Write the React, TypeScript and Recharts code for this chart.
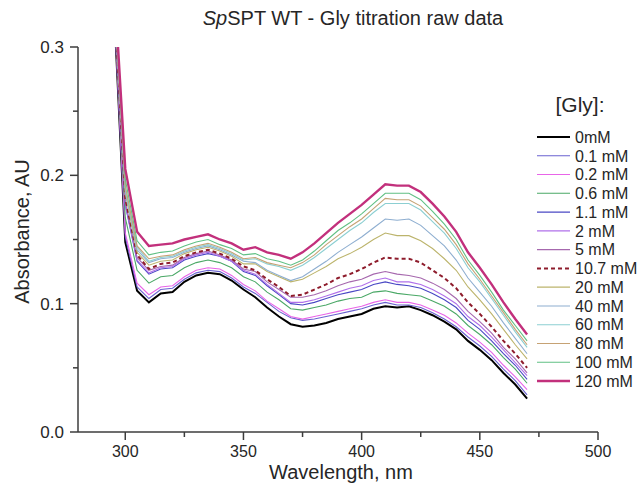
import React from 'react';
import { LineChart, Line, XAxis, YAxis } from 'recharts';

// wavelength grid, nm
const wavelengths = [
  295, 300, 305, 310, 315, 320, 325, 330, 335, 340, 345, 350,
  355, 360, 365, 370, 375, 380, 385, 390, 395, 400, 405, 410,
  415, 420, 425, 430, 435, 440, 445, 450, 455, 460, 465, 470,
];

// absorbance per [Gly]
const gly0 = [0.340, 0.148, 0.110, 0.101, 0.108, 0.109, 0.117, 0.122, 0.124, 0.123, 0.118, 0.111, 0.105, 0.097, 0.090, 0.084, 0.082, 0.083, 0.085, 0.088, 0.090, 0.092, 0.096, 0.098, 0.097, 0.098, 0.095, 0.091, 0.086, 0.080, 0.071, 0.064, 0.056, 0.046, 0.037, 0.026];
const gly01 = [0.341, 0.152, 0.113, 0.104, 0.111, 0.112, 0.119, 0.124, 0.126, 0.125, 0.120, 0.113, 0.108, 0.101, 0.094, 0.089, 0.087, 0.088, 0.090, 0.092, 0.094, 0.096, 0.099, 0.101, 0.099, 0.099, 0.097, 0.093, 0.088, 0.082, 0.074, 0.067, 0.059, 0.049, 0.040, 0.029];
const gly02 = [0.342, 0.155, 0.116, 0.107, 0.113, 0.114, 0.121, 0.126, 0.128, 0.127, 0.122, 0.115, 0.110, 0.102, 0.096, 0.090, 0.088, 0.090, 0.092, 0.094, 0.096, 0.098, 0.101, 0.103, 0.101, 0.101, 0.099, 0.095, 0.091, 0.085, 0.077, 0.070, 0.062, 0.052, 0.043, 0.033];
const gly06 = [0.344, 0.167, 0.126, 0.116, 0.121, 0.122, 0.128, 0.132, 0.134, 0.132, 0.128, 0.121, 0.117, 0.109, 0.103, 0.096, 0.095, 0.097, 0.099, 0.102, 0.104, 0.105, 0.109, 0.110, 0.108, 0.107, 0.106, 0.102, 0.098, 0.092, 0.083, 0.076, 0.068, 0.058, 0.049, 0.038];
const gly11 = [0.346, 0.177, 0.133, 0.123, 0.127, 0.128, 0.134, 0.137, 0.139, 0.137, 0.133, 0.125, 0.122, 0.114, 0.107, 0.100, 0.099, 0.101, 0.104, 0.107, 0.109, 0.111, 0.115, 0.117, 0.115, 0.114, 0.112, 0.108, 0.103, 0.097, 0.087, 0.080, 0.071, 0.061, 0.052, 0.041];
const gly2 = [0.346, 0.178, 0.134, 0.124, 0.128, 0.129, 0.135, 0.138, 0.140, 0.137, 0.133, 0.126, 0.123, 0.115, 0.108, 0.101, 0.101, 0.103, 0.106, 0.109, 0.112, 0.114, 0.118, 0.120, 0.117, 0.117, 0.115, 0.111, 0.106, 0.100, 0.090, 0.083, 0.074, 0.064, 0.054, 0.044];
const gly5 = [0.347, 0.180, 0.136, 0.126, 0.129, 0.130, 0.136, 0.139, 0.141, 0.138, 0.134, 0.127, 0.125, 0.117, 0.111, 0.105, 0.105, 0.107, 0.110, 0.114, 0.117, 0.119, 0.123, 0.125, 0.123, 0.122, 0.120, 0.116, 0.111, 0.104, 0.094, 0.086, 0.077, 0.066, 0.057, 0.046];
const gly107 = [0.348, 0.182, 0.138, 0.127, 0.131, 0.132, 0.137, 0.140, 0.142, 0.139, 0.135, 0.129, 0.126, 0.119, 0.113, 0.106, 0.107, 0.111, 0.115, 0.120, 0.123, 0.127, 0.132, 0.136, 0.135, 0.135, 0.132, 0.126, 0.120, 0.112, 0.101, 0.092, 0.082, 0.071, 0.061, 0.050];
const gly20 = [0.350, 0.186, 0.140, 0.130, 0.133, 0.134, 0.139, 0.142, 0.144, 0.141, 0.137, 0.131, 0.131, 0.125, 0.121, 0.117, 0.119, 0.124, 0.129, 0.135, 0.139, 0.144, 0.150, 0.155, 0.153, 0.153, 0.149, 0.143, 0.135, 0.126, 0.113, 0.103, 0.092, 0.080, 0.068, 0.057];
const gly40 = [0.351, 0.188, 0.142, 0.132, 0.135, 0.136, 0.140, 0.143, 0.145, 0.142, 0.138, 0.133, 0.132, 0.126, 0.122, 0.118, 0.121, 0.127, 0.133, 0.140, 0.146, 0.152, 0.159, 0.166, 0.165, 0.166, 0.161, 0.153, 0.145, 0.134, 0.120, 0.109, 0.098, 0.085, 0.073, 0.061];
const gly60 = [0.352, 0.190, 0.144, 0.133, 0.136, 0.137, 0.141, 0.144, 0.146, 0.143, 0.139, 0.134, 0.135, 0.131, 0.129, 0.126, 0.130, 0.136, 0.143, 0.150, 0.157, 0.163, 0.171, 0.178, 0.178, 0.178, 0.173, 0.164, 0.155, 0.143, 0.128, 0.117, 0.104, 0.091, 0.078, 0.066];
const gly80 = [0.353, 0.192, 0.145, 0.135, 0.137, 0.138, 0.142, 0.145, 0.147, 0.144, 0.140, 0.135, 0.136, 0.132, 0.130, 0.128, 0.132, 0.138, 0.146, 0.153, 0.160, 0.166, 0.174, 0.182, 0.181, 0.181, 0.176, 0.167, 0.158, 0.146, 0.131, 0.119, 0.106, 0.093, 0.080, 0.068];
const gly100 = [0.355, 0.197, 0.149, 0.138, 0.140, 0.141, 0.145, 0.148, 0.150, 0.146, 0.143, 0.138, 0.139, 0.135, 0.133, 0.130, 0.134, 0.141, 0.149, 0.157, 0.163, 0.170, 0.178, 0.186, 0.186, 0.186, 0.181, 0.172, 0.162, 0.150, 0.134, 0.122, 0.109, 0.095, 0.083, 0.071];
const gly120 = [0.360, 0.205, 0.156, 0.145, 0.146, 0.147, 0.150, 0.152, 0.154, 0.150, 0.147, 0.142, 0.144, 0.140, 0.138, 0.135, 0.140, 0.147, 0.155, 0.163, 0.170, 0.177, 0.185, 0.193, 0.192, 0.192, 0.187, 0.178, 0.168, 0.156, 0.140, 0.128, 0.115, 0.101, 0.088, 0.076];

const xTicks = [300, 325, 350, 375, 400, 425, 450, 475, 500];
const yTicks = [0, 0.05, 0.1, 0.15, 0.2, 0.25, 0.3];

const series = [
  { key: 'g0', label: '0mM', values: gly0, color: '#000000', width: 2 },
  { key: 'g01', label: '0.1 mM', values: gly01, color: '#6a62d0', width: 1.1 },
  { key: 'g02', label: '0.2 mM', values: gly02, color: '#e865e8', width: 1.1 },
  { key: 'g06', label: '0.6 mM', values: gly06, color: '#4aa866', width: 1.1 },
  { key: 'g11', label: '1.1 mM', values: gly11, color: '#4a48c4', width: 1.1 },
  { key: 'g2', label: '2 mM', values: gly2, color: '#b070ea', width: 1.1 },
  { key: 'g5', label: '5 mM', values: gly5, color: '#a668ae', width: 1.1 },
  { key: 'g107', label: '10.7 mM', values: gly107, color: '#8e1c2c', width: 2, dash: '4 3' },
  { key: 'g20', label: '20 mM', values: gly20, color: '#bcb46c', width: 1.1 },
  { key: 'g40', label: '40 mM', values: gly40, color: '#8eaed0', width: 1.1 },
  { key: 'g60', label: '60 mM', values: gly60, color: '#8ccfd2', width: 1.1 },
  { key: 'g80', label: '80 mM', values: gly80, color: '#c6a274', width: 1.1 },
  { key: 'g100', label: '100 mM', values: gly100, color: '#60c084', width: 1.1 },
  { key: 'g120', label: '120 mM', values: gly120, color: '#c2307c', width: 2.4 },
];

const data = wavelengths.map((wl, i) => {
  const row: Record<string, number> = { wl };
  series.forEach(s => { row[s.key] = s.values[i]; });
  return row;
});

const FONT = "'Liberation Sans', Arial, Helvetica, sans-serif";
const AXIS = '#3c3c3c';
const INK = '#262626';

const XTick = (props: any) => {
  const { x, y, payload } = props;
  const major = payload.value % 50 === 0;
  return (
    <g>
      <line x1={x} y1={y} x2={x} y2={y + (major ? 8 : 5)} stroke={AXIS} strokeWidth={1.5} />
      {major && (
        <text x={x} y={y + 25} textAnchor="middle" fontSize={16} fill={INK} fontFamily={FONT}>
          {payload.value}
        </text>
      )}
    </g>
  );
};

const YTick = (props: any) => {
  const { x, y, payload } = props;
  const major = Math.round(payload.value * 100) % 10 === 0;
  return (
    <g>
      <line x1={x - (major ? 8 : 5)} y1={y} x2={x} y2={y} stroke={AXIS} strokeWidth={1.5} />
      {major && (
        <text x={x - 14} y={y} dy="0.36em" textAnchor="end" fontSize={17} fill={INK} fontFamily={FONT}>
          {payload.value.toFixed(1)}
        </text>
      )}
    </g>
  );
};

const YLabel = (props: any) => {
  const { viewBox } = props;
  const cx = viewBox.x + 22;
  const cy = viewBox.y + viewBox.height / 2 - 8;
  return (
    <text x={cx} y={cy} dy="0.36em" transform={`rotate(-90, ${cx}, ${cy})`} textAnchor="middle" fontSize={20} fill={INK} fontFamily={FONT}>
      Absorbance, AU
    </text>
  );
};

const XLabel = (props: any) => {
  const { viewBox } = props;
  const cx = viewBox.x + viewBox.width / 2 + 3;
  const cy = viewBox.y + 40;
  return (
    <text x={cx} y={cy} dy="0.36em" textAnchor="middle" fontSize={20} fill={INK} fontFamily={FONT}>
      Wavelength, nm
    </text>
  );
};

export default function App() {
  return (
    <div style={{ position: 'absolute', left: 0, top: 0, width: 640, height: 491, background: '#fff', fontFamily: FONT }}>
      <div
        style={{
          position: 'absolute', left: 353, top: 8, transform: 'translateX(-50%)',
          whiteSpace: 'nowrap', fontSize: 20, lineHeight: '20px', color: INK,
        }}
      >
        <i>Sp</i>SPT WT - Gly titration raw data
      </div>

      <LineChart width={640} height={491} data={data} margin={{ top: 47, right: 42, left: 0, bottom: 0 }}>
        <XAxis
          dataKey="wl"
          type="number"
          domain={[280, 500]}
          ticks={xTicks}
          interval={0}
          height={59}
          tickSize={0}
          tickMargin={0}
          tickLine={false}
          axisLine={{ stroke: AXIS, strokeWidth: 1.5 }}
          tick={<XTick />}
          label={<XLabel />}
        />
        <YAxis
          type="number"
          domain={[0, 0.3]}
          allowDataOverflow
          ticks={yTicks}
          interval={0}
          width={78}
          tickSize={0}
          tickMargin={0}
          tickLine={false}
          axisLine={{ stroke: AXIS, strokeWidth: 1.5 }}
          tick={<YTick />}
          label={<YLabel />}
        />
        {series.map(s => (
          <Line
            key={s.key}
            dataKey={s.key}
            type="linear"
            stroke={s.color}
            strokeWidth={s.width}
            strokeDasharray={s.dash}
            dot={false}
            activeDot={false}
            isAnimationActive={false}
          />
        ))}
      </LineChart>

      <svg width={110} height={345} style={{ position: 'absolute', left: 530, top: 80 }}>
        <text x={50} y={24} dy="0.36em" textAnchor="middle" fontSize={21} fill={INK} fontFamily={FONT}>
          [Gly]:
        </text>
        {series.map((s, i) => {
          const cy = 57 + i * 18.77;
          return (
            <g key={s.key}>
              <line x1={7} y1={cy} x2={40} y2={cy} stroke={s.color} strokeWidth={s.width} strokeDasharray={s.dash} />
              <text x={45} y={cy} dy="0.36em" fontSize={16} fill={INK} fontFamily={FONT}>
                {s.label}
              </text>
            </g>
          );
        })}
      </svg>
    </div>
  );
}
